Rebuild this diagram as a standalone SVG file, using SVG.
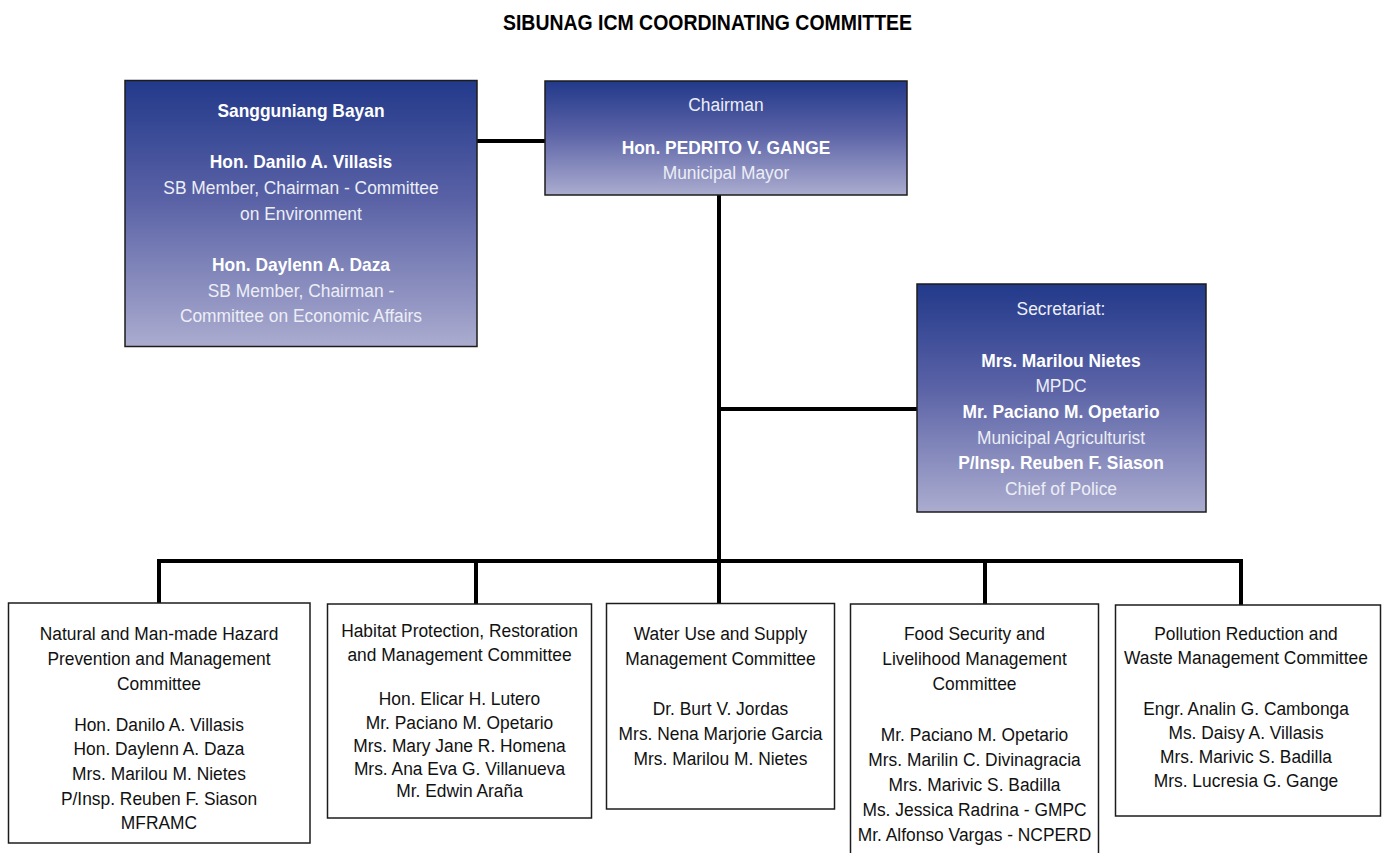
<svg xmlns="http://www.w3.org/2000/svg" width="1384" height="853" viewBox="0 0 1384 853">
  <defs>
    <linearGradient id="blueFade" x1="0" y1="0" x2="0" y2="1">
      <stop offset="0" stop-color="#22398a"/>
      <stop offset="0.45" stop-color="#5a62a6"/>
      <stop offset="1" stop-color="#abaccf"/>
    </linearGradient>
    <style>
      text { font-family: "Liberation Sans", Arial, sans-serif; text-anchor: middle;
             transform-box: fill-box; transform-origin: center; transform: scaleX(0.93); }
      .title { font-size: 22.5px; font-weight: bold; fill: #000; transform: scaleX(0.865); }
      .lead { fill: url(#blueFade); stroke: #1c1c1c; stroke-width: 1.5; }
      .member { fill: #ffffff; stroke: #1c1c1c; stroke-width: 1.5; }
      .wt { font-size: 18.7px; fill: #eceef6; }
      .wb { font-size: 18.7px; font-weight: bold; fill: #ffffff; }
      .bk { font-size: 18.7px; fill: #111; }
      .wire { stroke: #000; stroke-width: 4; fill: none; stroke-linecap: butt; }
    </style>
  </defs>

  <rect x="0" y="0" width="1384" height="853" fill="#ffffff"/>

  <text class="title" x="707.5" y="30">SIBUNAG ICM COORDINATING COMMITTEE</text>

  <!-- connectors -->
  <g id="connectors">
    <line class="wire" x1="477" y1="141" x2="545" y2="141"/>
    <line class="wire" x1="719" y1="195" x2="719" y2="604"/>
    <line class="wire" x1="719" y1="409" x2="917" y2="409"/>
    <line class="wire" x1="157" y1="561" x2="1243" y2="561"/>
    <line class="wire" x1="159" y1="559" x2="159" y2="603"/>
    <line class="wire" x1="476" y1="559" x2="476" y2="604"/>
    <line class="wire" x1="985" y1="559" x2="985" y2="604"/>
    <line class="wire" x1="1241" y1="559" x2="1241" y2="605"/>
  </g>

  <!-- council -->
  <g id="sangguniang-bayan">
    <rect class="lead" x="125" y="80.5" width="352" height="266"/>
    <text class="wb" x="301" y="117.5">Sangguniang Bayan</text>
    <text class="wb" x="301" y="168">Hon. Danilo A. Villasis</text>
    <text class="wt" x="301" y="194.5">SB Member, Chairman - Committee</text>
    <text class="wt" x="301" y="220">on Environment</text>
    <text class="wb" x="301" y="271.5">Hon. Daylenn A. Daza</text>
    <text class="wt" x="301" y="297">SB Member, Chairman -</text>
    <text class="wt" x="301" y="322">Committee on Economic Affairs</text>
  </g>

  <!-- chair -->
  <g id="chairman">
    <rect class="lead" x="545" y="81" width="362" height="114"/>
    <text class="wt" x="726" y="111.5">Chairman</text>
    <text class="wb" x="726" y="154">Hon. PEDRITO V. GANGE</text>
    <text class="wt" x="726" y="179">Municipal Mayor</text>
  </g>

  <!-- secretariat -->
  <g id="secretariat">
    <rect class="lead" x="917" y="284" width="289" height="228"/>
    <text class="wt" x="1061" y="315">Secretariat:</text>
    <text class="wb" x="1061" y="367">Mrs. Marilou Nietes</text>
    <text class="wt" x="1061" y="392.5">MPDC</text>
    <text class="wb" x="1061" y="418">Mr. Paciano M. Opetario</text>
    <text class="wt" x="1061" y="444">Municipal Agriculturist</text>
    <text class="wb" x="1061" y="469.5">P/Insp. Reuben F. Siason</text>
    <text class="wt" x="1061" y="495">Chief of Police</text>
  </g>

  <!-- committees -->
  <g id="hazard-committee">
    <rect class="member" x="8.5" y="603" width="301.5" height="240"/>
    <text class="bk" x="159" y="640.5">Natural and Man-made Hazard</text>
    <text class="bk" x="159" y="665.5">Prevention and Management</text>
    <text class="bk" x="159" y="690">Committee</text>
    <text class="bk" x="159" y="731">Hon. Danilo A. Villasis</text>
    <text class="bk" x="159" y="755.5">Hon. Daylenn A. Daza</text>
    <text class="bk" x="159" y="780">Mrs. Marilou M. Nietes</text>
    <text class="bk" x="159" y="805">P/Insp. Reuben F. Siason</text>
    <text class="bk" x="159" y="829.5">MFRAMC</text>
  </g>

  <g id="habitat-committee">
    <rect class="member" x="327.5" y="604" width="264" height="214"/>
    <text class="bk" x="459.5" y="637.5">Habitat Protection, Restoration</text>
    <text class="bk" x="459.5" y="661">and Management Committee</text>
    <text class="bk" x="459.5" y="705.5">Hon. Elicar H. Lutero</text>
    <text class="bk" x="459.5" y="729">Mr. Paciano M. Opetario</text>
    <text class="bk" x="459.5" y="752.5">Mrs. Mary Jane R. Homena</text>
    <text class="bk" x="459.5" y="775.5">Mrs. Ana Eva G. Villanueva</text>
    <text class="bk" x="459.5" y="797.5">Mr. Edwin Araña</text>
  </g>

  <g id="water-committee">
    <rect class="member" x="606.5" y="603.5" width="228" height="205.5"/>
    <text class="bk" x="720.5" y="640">Water Use and Supply</text>
    <text class="bk" x="720.5" y="665">Management Committee</text>
    <text class="bk" x="720.5" y="715.5">Dr. Burt V. Jordas</text>
    <text class="bk" x="720.5" y="740.5">Mrs. Nena Marjorie Garcia</text>
    <text class="bk" x="720.5" y="765.5">Mrs. Marilou M. Nietes</text>
  </g>

  <g id="food-committee">
    <rect class="member" x="850.5" y="604" width="248" height="260"/>
    <text class="bk" x="974.5" y="640">Food Security and</text>
    <text class="bk" x="974.5" y="665">Livelihood Management</text>
    <text class="bk" x="974.5" y="690">Committee</text>
    <text class="bk" x="974.5" y="741.5">Mr. Paciano M. Opetario</text>
    <text class="bk" x="974.5" y="766.5">Mrs. Marilin C. Divinagracia</text>
    <text class="bk" x="974.5" y="791.5">Mrs. Marivic S. Badilla</text>
    <text class="bk" x="974.5" y="816.5">Ms. Jessica Radrina - GMPC</text>
    <text class="bk" x="974.5" y="841.5">Mr. Alfonso Vargas - NCPERD</text>
  </g>

  <g id="pollution-committee">
    <rect class="member" x="1115.5" y="605" width="265" height="211"/>
    <text class="bk" x="1246" y="640">Pollution Reduction and</text>
    <text class="bk" x="1246" y="664.5">Waste Management Committee</text>
    <text class="bk" x="1246" y="715.5">Engr. Analin G. Cambonga</text>
    <text class="bk" x="1246" y="739.5">Ms. Daisy A. Villasis</text>
    <text class="bk" x="1246" y="763">Mrs. Marivic S. Badilla</text>
    <text class="bk" x="1246" y="787">Mrs. Lucresia G. Gange</text>
  </g>
</svg>
